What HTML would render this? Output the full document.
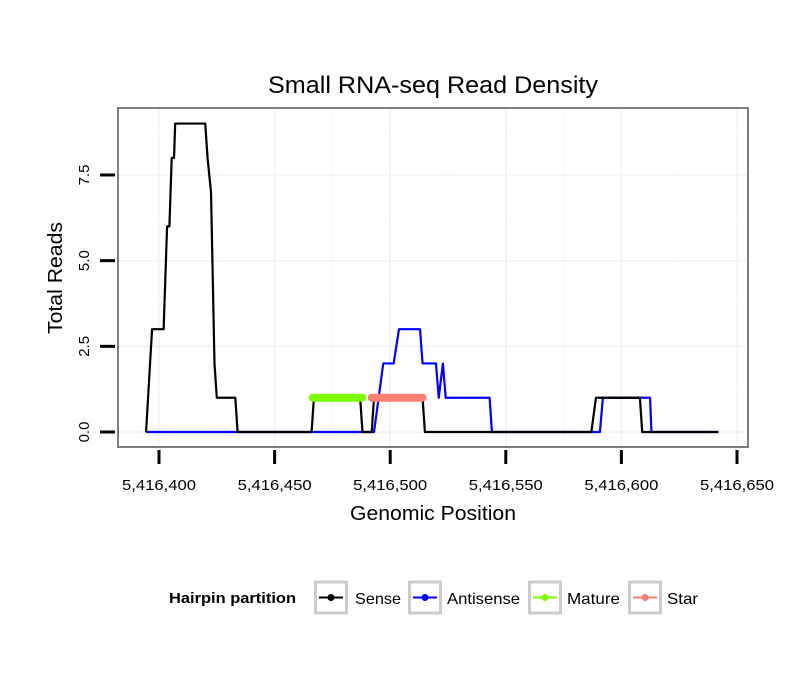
<!DOCTYPE html>
<html><head><meta charset="utf-8"><style>
body{margin:0;background:#fff}
svg text{font-family:"Liberation Sans",sans-serif}
</style></head><body>
<svg width="810" height="690" xmlns="http://www.w3.org/2000/svg">
<rect width="810" height="690" fill="#fff"/>
<text x="433" y="93" font-size="24" text-anchor="middle" textLength="330" lengthAdjust="spacingAndGlyphs">Small RNA-seq Read Density</text>
<g id="grid"></g>
<g id="series"></g>
<rect x="118" y="108" width="630" height="339" fill="none" stroke="#7f7f7f" stroke-width="2"/>
<g id="axes"></g>
<text x="433" y="520" font-size="20" text-anchor="middle" textLength="166" lengthAdjust="spacingAndGlyphs">Genomic Position</text>
<text transform="translate(62,278) rotate(-90)" font-size="20" text-anchor="middle" textLength="112" lengthAdjust="spacingAndGlyphs">Total Reads</text>
<g>
<text x="169" y="603" font-size="15" font-weight="bold" textLength="127" lengthAdjust="spacingAndGlyphs">Hairpin partition</text>
<g id="legend"></g>
</g>
</svg>
<script>
const xTicks=[5416400,5416450,5416500,5416550,5416600,5416650];
const xTickLabels=["5,416,400","5,416,450","5,416,500","5,416,550","5,416,600","5,416,650"];
const yTicks=[0,2.5,5,7.5];
const yTickLabels=["0.0","2.5","5.0","7.5"];
const senseX=[394.4,397,402,403.5,404.5,405.5,406.5,407,420,421,422.5,424,425,433,434,466,467,487,488,492,493,514,515,587,589,608,609,642];
const senseY=[0,3,3,6,6,8,8,9,9,8,7,2,1,1,0,0,1,1,0,0,1,1,0,0,1,1,0,0];
const antiX=[394.4,493,495,497,499,501.5,503.8,512.9,514,519.8,521,522.8,524,543,544,590.7,592,612.4,613,642];
const antiY=[0,0,1,2,2,2,3,3,2,2,1,2,1,1,0,0,1,1,0,0];
const matureX=[466.5,488];
const matureY=[1,1];
const starX=[492,514];
const starY=[1,1];
const legendLabels=["Sense","Antisense","Mature","Star"];
const legendColors=["#000000","#0000ff","#7fff00","#fa8072"];

const NS="http://www.w3.org/2000/svg";
function px(d){return 159+(d-400)*2.312;}
function xs(v){return 159+(v-5416400)*2.312;}
function ys(v){return 432-v*34.27;}
function mk(t,a,p){const e=document.createElementNS(NS,t);for(const k in a)e.setAttribute(k,a[k]);(p||document.querySelector('svg')).appendChild(e);return e;}
const grid=document.getElementById('grid'),axes=document.getElementById('axes'),ser=document.getElementById('series');
mk('rect',{x:118,y:108,width:630,height:339,fill:'#fff'},grid);
for(let i=0;i<xTicks.length;i++){
 const X=xs(xTicks[i]);
 const g=mk('line',{x1:X,x2:X,y1:108,y2:447,stroke:'#f2f2f2','stroke-width':1.5},grid);
 
 
 const m=xs(xTicks[i]-25);
 if(m>118)mk('line',{x1:m,x2:m,y1:108,y2:447,stroke:'#fafafa','stroke-width':1},grid);
 const t=mk('line',{x1:X,x2:X,y1:450,y2:464,stroke:'#000','stroke-width':3},axes);
 
 
 const l=mk('text',{x:X,y:490,'font-size':15,'text-anchor':'middle',textLength:74,lengthAdjust:'spacingAndGlyphs'},axes);
 l.textContent=xTickLabels[i];
 
 
}
for(let i=0;i<yTicks.length;i++){
 const Y=ys(yTicks[i]);
 const g=mk('line',{x1:118,x2:748,y1:Y,y2:Y,stroke:'#f2f2f2','stroke-width':1.5},grid);
 
 
 mk('line',{x1:118,x2:748,y1:ys(yTicks[i]+1.25),y2:ys(yTicks[i]+1.25),stroke:'#fafafa','stroke-width':1},grid);
 const t=mk('line',{x1:100,x2:115,y1:Y,y2:Y,stroke:'#000','stroke-width':3},axes);
 
 
 const l=mk('text',{transform:`translate(89,${Y}) rotate(-90)`,'font-size':15,'text-anchor':'middle'},axes);
 l.textContent=yTickLabels[i];
 
 
}
function line(X,Y,c,name,w){
 const pts=X.map((v,i)=>px(v)+','+ys(Y[i])).join(' ');
 const p=mk('polyline',{points:pts,fill:'none',stroke:c,'stroke-width':w||2.2,'stroke-linejoin':'round'},ser);
 
 
}
line(antiX,antiY,'#0000ff','antisense-line');
line(senseX,senseY,'#000000','sense-line');
function dots(X,Y,c,name){
 const p=mk('line',{x1:px(X[0]),x2:px(X[1]),y1:ys(Y[0]),y2:ys(Y[1]),stroke:c,'stroke-width':8,'stroke-linecap':'round'},ser);
 
 
}
dots(matureX,matureY,'#7fff00','mature-segment');
dots(starX,starY,'#fa8072','star-segment');
const lg=document.getElementById('legend');
const boxX=[314,408,528,628],textX=[355,447,567,667];
const textW=[46,73,53,31];
for(let i=0;i<4;i++){
 const b=mk('rect',{x:boxX[i]+1.5,y:582,width:31,height:31,fill:'#fff',stroke:'#cccccc','stroke-width':3},lg);
 
 
 mk('line',{x1:boxX[i]+5,x2:boxX[i]+29,y1:597.5,y2:597.5,stroke:legendColors[i],'stroke-width':2},lg);
 mk('circle',{cx:boxX[i]+17,cy:597.5,r:3.5,fill:legendColors[i]},lg);
 const t=mk('text',{x:textX[i],y:604,'font-size':16,textLength:textW[i],lengthAdjust:'spacingAndGlyphs'},lg);
 t.textContent=legendLabels[i];
 
 
}
</script>
</body></html>
